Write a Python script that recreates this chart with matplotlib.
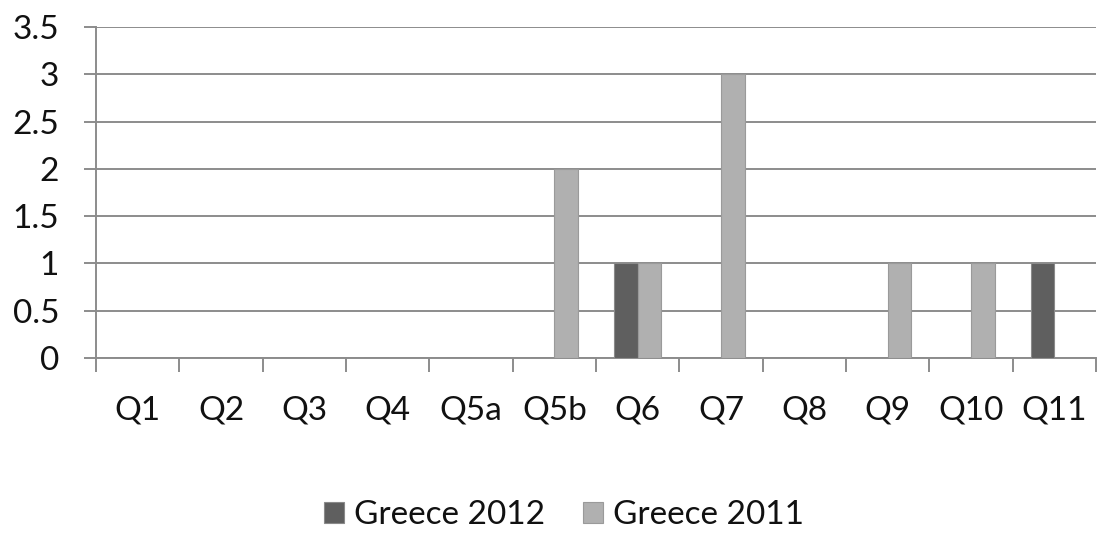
import matplotlib.pyplot as plt
import numpy as np

categories = ['Q1', 'Q2', 'Q3', 'Q4', 'Q5a', 'Q5b', 'Q6', 'Q7', 'Q8', 'Q9', 'Q10', 'Q11']
greece_2012 = [0, 0, 0, 0, 0, 0, 1, 0, 0, 0, 0, 1]
greece_2011 = [0, 0, 0, 0, 0, 2, 1, 3, 0, 1, 1, 0]
y_ticks = [0, 0.5, 1, 1.5, 2, 2.5, 3, 3.5]
y_labels = ['0', '0.5', '1', '1.5', '2', '2.5', '3', '3.5']

plt.rcParams['font.family'] = ['Lato', 'DejaVu Sans']

fig = plt.figure(figsize=(10.97, 5.34), dpi=100)
ax = fig.add_axes([96 / 1097, 1 - 358 / 534, 1000 / 1097, 331 / 534])

x = np.arange(len(categories))
w = 2 / 3.5 / 2  # excel gap width 150%
grid_c = '#8c8c8c'
ax.bar(x - w / 2, greece_2012, w, color='#5f5f5f', edgecolor='#8a8a8a', linewidth=0.8,
       label='Greece 2012', zorder=3)
ax.bar(x + w / 2, greece_2011, w, color='#b0b0b0', edgecolor='#9a9a9a', linewidth=0.8,
       label='Greece 2011', zorder=3)

ax.set_xlim(-0.5, len(categories) - 0.5)
ax.set_ylim(0, 3.5)
ax.set_yticks(y_ticks)
ax.set_yticklabels(y_labels)
ax.yaxis.grid(True, color=grid_c, linewidth=1.4, zorder=0)
ax.set_axisbelow(True)

ax.set_xticks(x)
ax.set_xticklabels(categories)
ax.set_xticks(np.arange(len(categories) + 1) - 0.5, minor=True)
ax.tick_params(axis='x', which='major', length=0, pad=27, labelsize=24, colors='#111111')
ax.tick_params(axis='x', which='minor', length=10, width=1.4, color=grid_c, direction='out')
ax.tick_params(axis='y', length=8.6, width=1.4, color=grid_c, labelsize=24, pad=18,
               labelcolor='#111111')

for s in ['top', 'right']:
    ax.spines[s].set_visible(False)
for s in ['left', 'bottom']:
    ax.spines[s].set_color(grid_c)
    ax.spines[s].set_linewidth(1.4)

leg = fig.legend(loc='center', bbox_to_anchor=(564 / 1097, 1 - 515 / 534), ncol=2,
                 frameon=False, fontsize=24, handlelength=0.6, handleheight=0.6,
                 handletextpad=0.3, columnspacing=1.15)
for t in leg.get_texts():
    t.set_color('#111111')

fig.savefig('out.png', dpi=100)
